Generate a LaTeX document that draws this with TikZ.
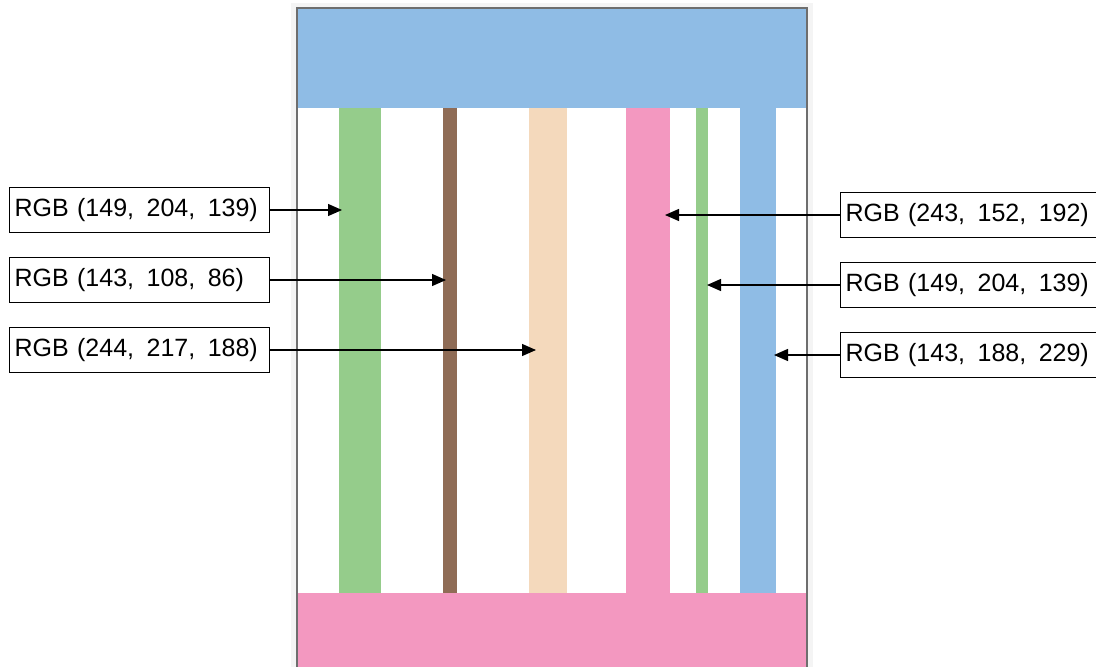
\documentclass[tikz,border=0pt]{standalone}
\usepackage{fontspec}
\setmainfont{Liberation Sans}
\usetikzlibrary{arrows.meta}
\definecolor{cgreen}{RGB}{149,204,139}
\definecolor{cbrown}{RGB}{143,108,86}
\definecolor{cpeach}{RGB}{244,217,188}
\definecolor{cpink}{RGB}{243,152,192}
\definecolor{cblue}{RGB}{143,188,229}
\definecolor{framegray}{RGB}{110,110,110}
\definecolor{shadowgray}{RGB}{244,244,244}
\begin{document}
\begin{tikzpicture}[x=1pt,y=-1pt,
  lbl/.style={draw=black, line width=1.3pt, fill=white, minimum height=45pt,
    text width=250pt, align=left, inner xsep=5pt, inner ysep=0pt,
    font=\fontsize{25}{28}\selectfont, anchor=west},
  lblr/.style={lbl, text width=280pt},
  arr/.style={line width=1.3pt, -{Triangle[length=14pt,width=12pt]}}]
\useasboundingbox (0,0) rectangle (1096,667);
\clip (0,0) rectangle (1096,667);
% shadow / frame
\fill[shadowgray] (291,3) rectangle (813,667);
\fill[white] (297,8) rectangle (807,667);
% stripes
\fill[cgreen] (339,108) rectangle (381,593);
\fill[cbrown] (443,108) rectangle (457,593);
\fill[cpeach] (529,108) rectangle (567,593);
\fill[cpink] (626,108) rectangle (670,593);
\fill[cgreen] (696,108) rectangle (708,593);
\fill[cblue] (740,108) rectangle (776,593);
% bands
\fill[cblue] (297,8) rectangle (807,108);
\fill[cpink] (297,593) rectangle (807,667);
\draw[framegray, line width=2pt] (297,667) -- (297,8) -- (807,8) -- (807,667);
% labels left
\node[lbl] (l1) at (9,210) {RGB (149,\, 204,\, 139)};
\node[lbl] (l2) at (9,280) {RGB (143,\, 108,\, 86)};
\node[lbl] (l3) at (9,350) {RGB (244,\, 217,\, 188)};
% labels right
\node[lblr] (r1) at (840,215) {RGB (243,\, 152,\, 192)};
\node[lblr] (r2) at (840,285) {RGB (149,\, 204,\, 139)};
\node[lblr] (r3) at (840,355) {RGB (143,\, 188,\, 229)};
% targets
\coordinate (t1) at (342,210);
\coordinate (t2) at (446,280);
\coordinate (t3) at (536,350);
\coordinate (s1) at (665,215);
\coordinate (s2) at (707,285);
\coordinate (s3) at (774,355);
\draw[arr] (l1.east) -- (t1);
\draw[arr] (l2.east) -- (t2);
\draw[arr] (l3.east) -- (t3);
\draw[arr] (r1.west) -- (s1);
\draw[arr] (r2.west) -- (s2);
\draw[arr] (r3.west) -- (s3);
\end{tikzpicture}
\end{document}
